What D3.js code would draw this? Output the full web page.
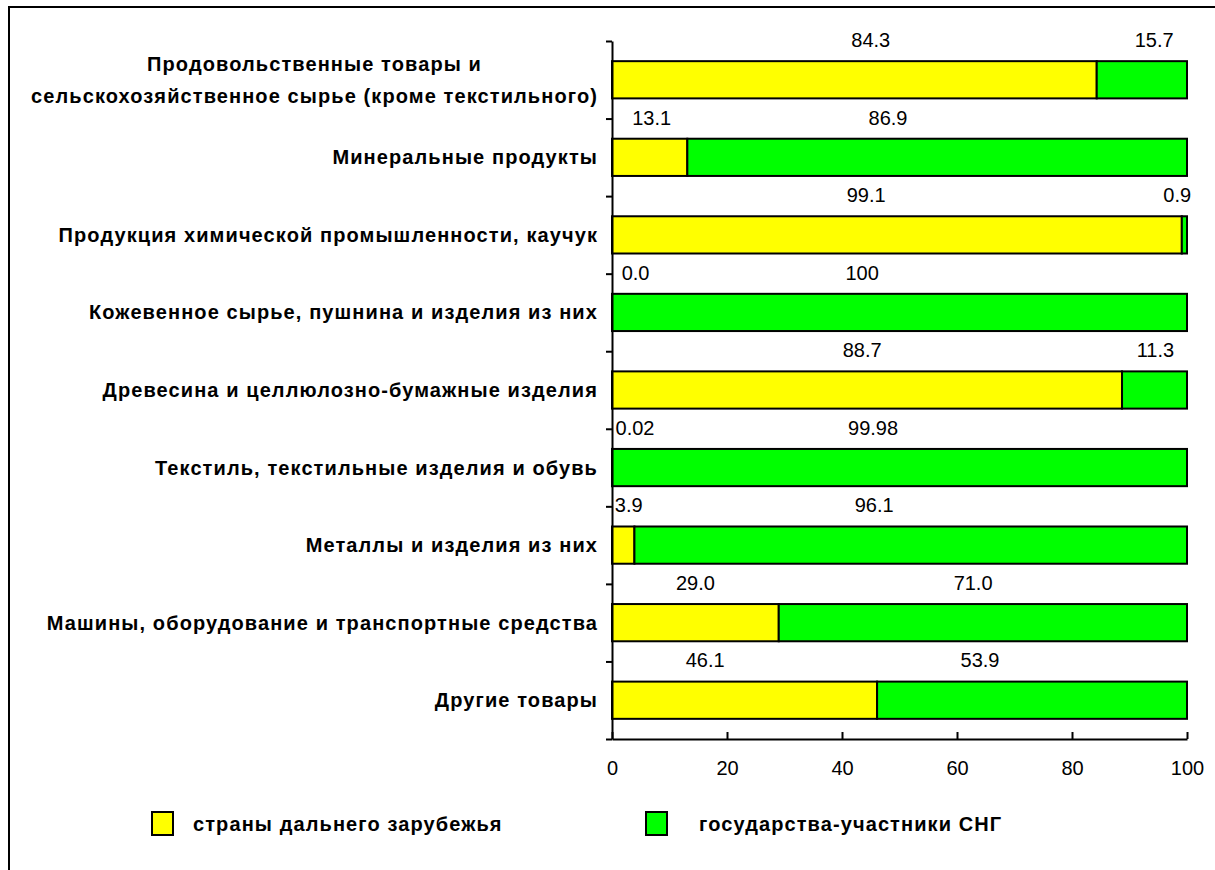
<!DOCTYPE html>
<html><head><meta charset="utf-8">
<script src="https://cdn.jsdelivr.net/npm/d3@7"></script>
<style>
html,body{margin:0;padding:0;background:#fff;}
svg{display:block;}
text{font-family:"Liberation Sans",Arial,sans-serif;fill:#000;}
</style></head>
<body>
<svg id="chart" width="1215" height="870"></svg>
<script>
const categories = [
  ["Продовольственные товары и", "сельскохозяйственное сырье (кроме текстильного)"],
  ["Минеральные продукты"],
  ["Продукция химической промышленности, каучук"],
  ["Кожевенное сырье, пушнина и изделия из них"],
  ["Древесина и целлюлозно-бумажные изделия"],
  ["Текстиль, текстильные изделия и обувь"],
  ["Металлы и изделия из них"],
  ["Машины, оборудование и транспортные средства"],
  ["Другие товары"]
];
const farAbroad = [84.3, 13.1, 99.1, 0.0, 88.7, 0.02, 3.9, 29.0, 46.1];
const cis       = [15.7, 86.9, 0.9, 100, 11.3, 99.98, 96.1, 71.0, 53.9];
const farLabels = ["84.3","13.1","99.1","0.0","88.7","0.02","3.9","29.0","46.1"];
const cisLabels = ["15.7","86.9","0.9","100","11.3","99.98","96.1","71.0","53.9"];
// label anchor positions (in value units along the axis) as placed in the original
const farLabelAt = [45.0, 6.9, 44.2, 4.1, 43.5, 4.0, 2.9, 14.5, 16.2];
const cisLabelAt = [94.3, 48.0, 98.3, 43.5, 94.5, 45.4, 45.6, 62.8, 64.0];
const xTicks = [0, 20, 40, 60, 80, 100];
const seriesNames = ["страны дальнего зарубежья", "государства-участники СНГ"];

(function () {
const colors = ["#FFFF00", "#00FF00"];
const svg = d3.select("#chart");
const catFont = {size: "20px", spacing: "1.1px"};

// outer frame
svg.append("rect").attr("x", 9).attr("y", 7).attr("width", 1300).attr("height", 1000)
  .attr("fill", "none").attr("stroke", "#000").attr("stroke-width", 2);

const pLeft = 612, pRight = 1187, pTop = 41, pBottom = 739;
const x = d3.scaleLinear().domain([0, 100]).range([pLeft, pRight]);
const idx = d3.range(categories.length);
const y = d3.scaleBand().domain(idx).range([pTop, pBottom]).paddingInner(0.52).paddingOuter(0.26);
const step = y.step();
const boundary = i => y(i) - step * 0.26;

// bars
const rows = svg.append("g").selectAll("g").data(idx).join("g");
rows.append("rect")
  .attr("x", i => x(0)).attr("y", i => y(i))
  .attr("width", i => x(farAbroad[i]) - x(0)).attr("height", y.bandwidth())
  .attr("fill", colors[0]).attr("stroke", "#000").attr("stroke-width", 2);
rows.append("rect")
  .attr("x", i => x(farAbroad[i])).attr("y", i => y(i))
  .attr("width", i => x(farAbroad[i] + cis[i]) - x(farAbroad[i])).attr("height", y.bandwidth())
  .attr("fill", colors[1]).attr("stroke", "#000").attr("stroke-width", 2);

// data labels
rows.append("text").attr("x", i => x(farLabelAt[i])).attr("y", i => boundary(i) - 1)
  .attr("text-anchor", "middle").attr("dominant-baseline", "central")
  .style("font-size", "20px").text(i => farLabels[i]);
rows.append("text").attr("x", i => x(cisLabelAt[i])).attr("y", i => boundary(i) - 1)
  .attr("text-anchor", "middle").attr("dominant-baseline", "central")
  .style("font-size", "20px").text(i => cisLabels[i]);

// category labels (multi-line blocks are centred, block right-aligned to the axis)
const labelRight = 598;
rows.each(function(i) {
  const g = d3.select(this);
  const lines = categories[i];
  const cy = y(i) + y.bandwidth() / 2;
  const lh = 32;
  const texts = lines.map((ln, k) => g.append("text")
      .attr("y", cy + (k - (lines.length - 1) / 2) * lh)
      .attr("text-anchor", "middle").attr("dominant-baseline", "central")
      .style("font-size", catFont.size).style("font-weight", "bold")
      .style("letter-spacing", catFont.spacing)
      .text(ln));
  const maxW = d3.max(texts, t => t.node().getComputedTextLength());
  texts.forEach(t => t.attr("x", labelRight - maxW / 2));
});

// y axis (category boundaries)
const yb = d3.scaleLinear().domain([0, categories.length]).range([pTop, pBottom]);
const yAxis = svg.append("g").attr("transform", `translate(${pLeft},0)`)
  .call(d3.axisLeft(yb).tickValues(d3.range(categories.length + 1)).tickFormat("").tickSize(6).tickSizeOuter(0));
yAxis.selectAll("line, path").attr("stroke", "#000").attr("stroke-width", 2);

// x axis
const xAxis = svg.append("g").attr("transform", `translate(0,${pBottom})`)
  .call(d3.axisBottom(x).tickValues(xTicks).tickSizeInner(-7).tickSizeOuter(0).tickPadding(22));
xAxis.selectAll("line, path").attr("stroke", "#000").attr("stroke-width", 2);
xAxis.selectAll("text").style("font-size", "20px").style("font-family", '"Liberation Sans",Arial,sans-serif').attr("fill", "#000");

// legend
const legend = [{x: 152, tx: 193}, {x: 646, tx: 699}];
legend.forEach((L, k) => {
  svg.append("rect").attr("x", L.x).attr("y", 812).attr("width", 21).attr("height", 23)
    .attr("fill", colors[k]).attr("stroke", "#000").attr("stroke-width", 2);
  svg.append("text").attr("x", L.tx).attr("y", 824).attr("dominant-baseline", "central")
    .style("font-size", catFont.size).style("font-weight", "bold")
    .style("letter-spacing", catFont.spacing).text(seriesNames[k]);
});
})();
</script>
</body></html>
